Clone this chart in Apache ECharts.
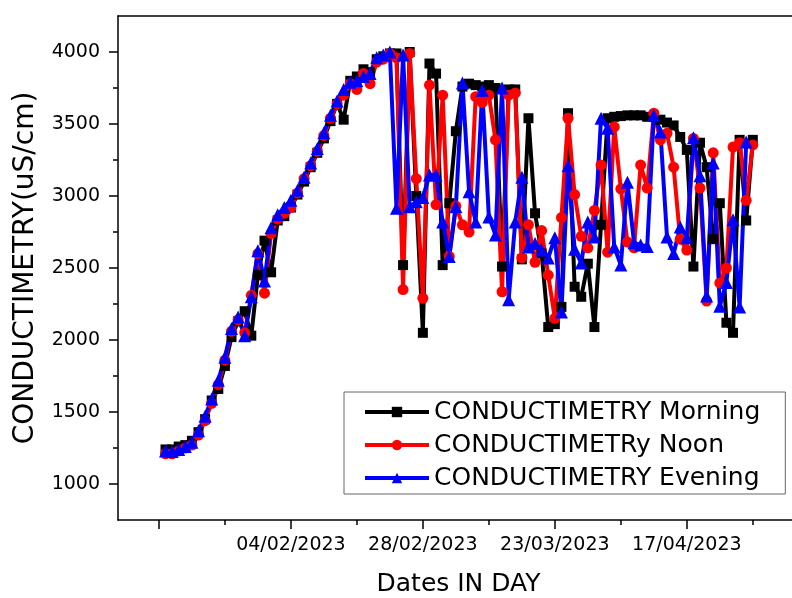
<!DOCTYPE html>
<html>
<head>
<meta charset="utf-8">
<script src="https://cdn.jsdelivr.net/npm/echarts@6/dist/echarts.min.js"></script>
<style>
  html, body { margin: 0; padding: 0; background: #fff; }
  #chart { width: 792px; height: 598px; }
</style>
</head>
<body>
<div id="chart"></div>
<script>
// Row-indexed daily readings (row 1 .. N)
const morning = [
  1240, 1240, 1260, 1270, 1300, 1360, 1450, 1580, 1660, 1820,
  2020, 2130, 2200, 2030, 2450, 2690, 2470, 2830, 2860, 2920,
  3010, 3100, 3200, 3300, 3400, 3520, 3640, 3530, 3800, 3830,
  3880, 3860, 3950, 3970, 3990, 3990, 2520, 4000, 3000, 2050,
  3920, 3850, 2520, 2950, 3450, 3760, 3780, 3770, 3760, 3770,
  3750, 2510, 3740, 3740, 2560, 3540, 2880, 2600, 2090, 2110,
  2230, 3575, 2370, 2300, 2530, 2090, 2800, 3540, 3550, 3555,
  3560, 3560, 3560, 3550, 3550, 3530, 3510, 3490, 3410, 3320,
  2510, 3370, 3200, 2700, 2950, 2120, 2050, 3390, 2830, 3390
];
const noon = [
  1210, 1210, 1230, 1250, 1270, 1340, 1440, 1560, 1690, 1860,
  2060, 2140, 2050, 2310, 2600, 2325, 2740, 2840, 2880, 2920,
  3020, 3120, 3210, 3310, 3420, 3540, 3640, 3700, 3780, 3740,
  3850, 3780, 3930, 3950, 3990, 3960, 2350, 3990, 3120, 2290,
  3770, 2940, 3700, 2580, 2930, 2800, 2750, 3690, 3650, 3700,
  3390, 2335, 3700, 3715, 2570, 2800, 2540, 2760, 2450, 2150,
  2850, 3540, 3010, 2720, 2640, 2900, 3215, 2610, 3480, 3050,
  2680, 2640, 3215, 3055, 3575, 3390, 3435, 3200, 2700, 2625,
  3400, 3055, 2270, 3300, 2395, 2500, 3340, 3370, 2970, 3355
];
const evening = [
  1230, 1225, 1240, 1260, 1290, 1370, 1470, 1590, 1720, 1880,
  2080, 2160, 2030, 2300, 2620, 2410, 2780, 2870, 2920, 2970,
  3040, 3130, 3230, 3330, 3440, 3560, 3660, 3740, 3790, 3800,
  3830, 3850, 3960, 3980, 4000, 2915, 3980, 2925, 2960, 2990,
  3145, 3145, 2820, 2580, 2925, 3785, 3030, 2820, 3735, 2855,
  2730, 3750, 2280, 2820, 3130, 2645, 2670, 2625, 2570, 2710,
  2195, 3210, 2630, 2535, 2820, 2715, 3540, 3470, 2645, 2520,
  3095, 2675, 2660, 2650, 3560, 3445, 2715, 2600, 2785, 2710,
  3405, 3140, 2305, 3230, 2235, 2400, 2835, 2230, 3375
];

const seriesNames = ['CONDUCTIMETRY Morning', 'CONDUCTIMETRy Noon', 'CONDUCTIMETRY Evening'];
const xMajorTicks = [0, 20, 40, 60, 80];
const xMinorTicks = [10, 30, 50, 70, 90];
const xLabelRows = [20, 40, 60, 80];
const xLabels = ['04/02/2023', '28/02/2023', '23/03/2023', '17/04/2023'];
const yMajorTicks = [1000, 1500, 2000, 2500, 3000, 3500, 4000];
const yMinorTicks = [1250, 1750, 2250, 2750, 3250, 3750];

const FONT = 'DejaVu Sans';
const toPairs = arr => arr.map((v, i) => [i + 1, v]);

const chart = echarts.init(document.getElementById('chart'), null, { renderer: 'canvas' });

const axisLineStyle = { color: '#000', width: 1.5 };
const xMin = -6.2, xMax = 97, yMin = 750, yMax = 4250;

const option = {
  animation: false,
  backgroundColor: '#fff',
  grid: {
    left: 118, top: 16, width: 681, height: 504,
    outerBoundsMode: 'none', containLabel: false, show: false
  },
  xAxis: [
    {
      type: 'value', min: xMin, max: xMax, position: 'bottom',
      axisLine: { show: true, onZero: false, lineStyle: axisLineStyle },
      axisTick: { show: true, inside: false, length: 9, customValues: xMajorTicks, lineStyle: axisLineStyle },
      axisLabel: {
        show: true, customValues: xLabelRows, margin: 16,
        fontFamily: FONT, fontSize: 19, color: '#000',
        formatter: v => { const k = xLabelRows.indexOf(v); return k >= 0 ? xLabels[k] : ''; }
      },
      splitLine: { show: false },
      name: 'Dates IN DAY', nameLocation: 'middle', nameGap: 52,
      nameTextStyle: { fontFamily: FONT, fontSize: 25, color: '#000' }
    },
    {
      type: 'value', min: xMin, max: xMax, position: 'bottom',
      axisLine: { show: false, onZero: false },
      axisTick: { show: true, inside: false, length: 5, customValues: xMinorTicks, lineStyle: axisLineStyle },
      axisLabel: { show: false },
      splitLine: { show: false }
    },
    {
      type: 'value', min: xMin, max: xMax, position: 'top',
      axisLine: { show: true, onZero: false, lineStyle: axisLineStyle },
      axisTick: { show: false },
      axisLabel: { show: false },
      splitLine: { show: false }
    }
  ],
  yAxis: [
    {
      type: 'value', min: yMin, max: yMax, position: 'left',
      axisLine: { show: true, onZero: false, lineStyle: axisLineStyle },
      axisTick: { show: true, inside: false, length: 9, customValues: yMajorTicks, lineStyle: axisLineStyle },
      axisLabel: {
        show: true, customValues: yMajorTicks, margin: 18,
        fontFamily: FONT, fontSize: 19, color: '#000',
        formatter: v => String(v)
      },
      splitLine: { show: false },
      name: 'CONDUCTIMETRY(uS/cm)', nameLocation: 'middle', nameGap: 78, nameRotate: 90,
      nameTextStyle: { fontFamily: FONT, fontSize: 28, color: '#000' }
    },
    {
      type: 'value', min: yMin, max: yMax, position: 'left',
      axisLine: { show: false, onZero: false },
      axisTick: { show: true, inside: false, length: 5, customValues: yMinorTicks, lineStyle: axisLineStyle },
      axisLabel: { show: false },
      splitLine: { show: false }
    }
  ],
  legend: {
    orient: 'vertical', left: 344, top: 392,
    padding: [4, 25, 0, 19],
    itemWidth: 64, itemHeight: 13, itemGap: 1,
    borderColor: '#666', borderWidth: 1, backgroundColor: '#fff',
    lineStyle: { width: 4 },
    textStyle: { fontFamily: FONT, fontSize: 25, color: '#000', lineHeight: 32 },
    data: seriesNames
  },
  series: [
    {
      name: seriesNames[0], type: 'line', data: toPairs(morning),
      symbol: 'rect', symbolSize: 10,
      lineStyle: { color: '#000', width: 4 }, itemStyle: { color: '#000' }
    },
    {
      name: seriesNames[1], type: 'line', data: toPairs(noon),
      symbol: 'circle', symbolSize: 11,
      lineStyle: { color: '#ff0000', width: 4 }, itemStyle: { color: '#ff0000' }
    },
    {
      name: seriesNames[2], type: 'line', data: toPairs(evening),
      symbol: 'triangle', symbolSize: 13,
      lineStyle: { color: '#0000ff', width: 4 }, itemStyle: { color: '#0000ff' }
    }
  ]
};
chart.setOption(option);
</script>
</body>
</html>
